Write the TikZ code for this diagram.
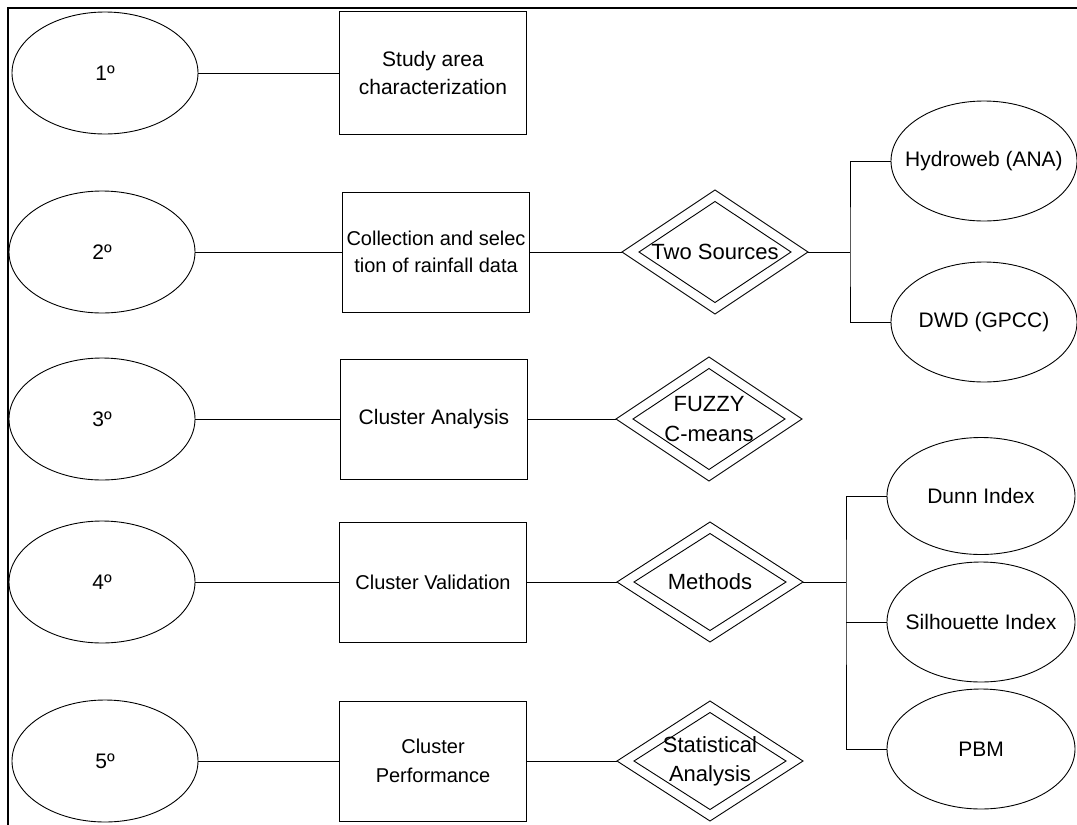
\documentclass[tikz,border=0pt]{standalone}
\usepackage{fontspec}
\setmainfont{Liberation Sans}
\usetikzlibrary{shapes.geometric}
\begin{document}
\begin{tikzpicture}[x=1pt,y=-1pt,
  every node/.style={inner sep=0pt, outer sep=0pt},
  ell/.style={ellipse, draw, line width=0.9pt, minimum width=186pt, minimum height=122pt},
  rell/.style={ellipse, draw, line width=0.9pt, minimum width=186pt, minimum height=120pt},
  box/.style={rectangle, draw, line width=0.9pt, minimum width=187pt, minimum height=120pt, align=center, font=\fontsize{21}{28}\selectfont},
  dia/.style={diamond, draw, line width=0.9pt, minimum width=186pt, minimum height=124pt},
  diain/.style={diamond, draw, line width=0.9pt, minimum width=152pt, minimum height=101pt},
  txt/.style={align=center, font=\fontsize{21}{28}\selectfont},
  conn/.style={line width=0.8pt},
]
\useasboundingbox (0,0) rectangle (1077,825);
\draw[line width=1.6pt] (8,825) -- (8,8) -- (1077,8);

% left column ellipses
\node[ell] (e1) at (105,73) {};  \node[txt] at (e1) {1º};
\node[ell] (e2) at (102,252) {}; \node[txt] at (e2) {2º};
\node[ell] (e3) at (102,419) {}; \node[txt] at (e3) {3º};
\node[ell] (e4) at (102,582) {}; \node[txt] at (e4) {4º};
\node[ell] (e5) at (105,761) {}; \node[txt] at (e5) {5º};

% boxes
\node[box, minimum height=123pt] (b1) at (433,73) {Study area\\characterization};
\node[box, font=\fontsize{20}{27}\selectfont] (b2) at (436,252) {Collection and selec\\tion of rainfall data};
\node[box] (b3) at (434,419) {Cluster Analysis};
\node[box, font=\fontsize{20}{27}\selectfont] (b4) at (433,582) {Cluster Validation};
\node[box, font=\fontsize{20}{29}\selectfont] (b5) at (433,761) {Cluster\\Performance};

% diamonds
\node[dia] (d2) at (715,252) {}; \node[diain] at (d2) {}; \node[txt, font=\fontsize{22}{28}\selectfont] at (d2) {Two Sources};
\node[dia] (d3) at (709,419) {}; \node[diain] at (d3) {}; \node[txt, font=\fontsize{22}{30}\selectfont] at (d3) {FUZZY\\C-means};
\node[dia, minimum height=120pt] (d4) at (710,582) {}; \node[diain, minimum height=97pt] at (d4) {}; \node[txt, font=\fontsize{22}{28}\selectfont] at (d4) {Methods};
\node[dia, minimum height=120pt] (d5) at (710,761) {}; \node[diain, minimum height=97pt] at (d5) {}; \node[txt, font=\fontsize{22}{29}\selectfont] at (d5) {Statistical\\Analysis};

% right ellipses
\node[rell] (h1) at (984,161) {}; \node[txt] at (h1) {Hydroweb (ANA)};
\node[rell] (h2) at (984,322) {}; \node[txt] at (h2) {DWD (GPCC)};
\node[rell, minimum width=188pt, minimum height=117pt] (m1) at (981,496) {}; \node[txt] at (m1) {Dunn Index};
\node[rell, minimum width=188pt] (m2) at (981,622) {}; \node[txt] at (m2) {Silhouette Index};
\node[rell, minimum width=188pt] (m3) at (981,749) {}; \node[txt] at (m3) {PBM};

\coordinate (j2) at (850,252);
\coordinate (j4) at (846,582);

% connectors
\draw[conn] (e1) -- (b1);
\draw[conn] (e2) -- (b2);
\draw[conn] (e3) -- (b3);
\draw[conn] (e4) -- (b4);
\draw[conn] (e5) -- (b5);
\draw[conn] (b2) -- (d2);
\draw[conn] (b3) -- (d3);
\draw[conn] (b4) -- (d4);
\draw[conn] (b5) -- (d5);
\draw[conn] (d2.east) -- (j2);
\draw[conn] (h1.west) -| (j2) |- (h2.west);
\draw[conn] (d4.east) -- (j4);
\draw[conn] (m1.west) -| (j4) |- (m3.west);
\draw[conn] (j4 |- m2.west) -- (m2.west);
\end{tikzpicture}
\end{document}
